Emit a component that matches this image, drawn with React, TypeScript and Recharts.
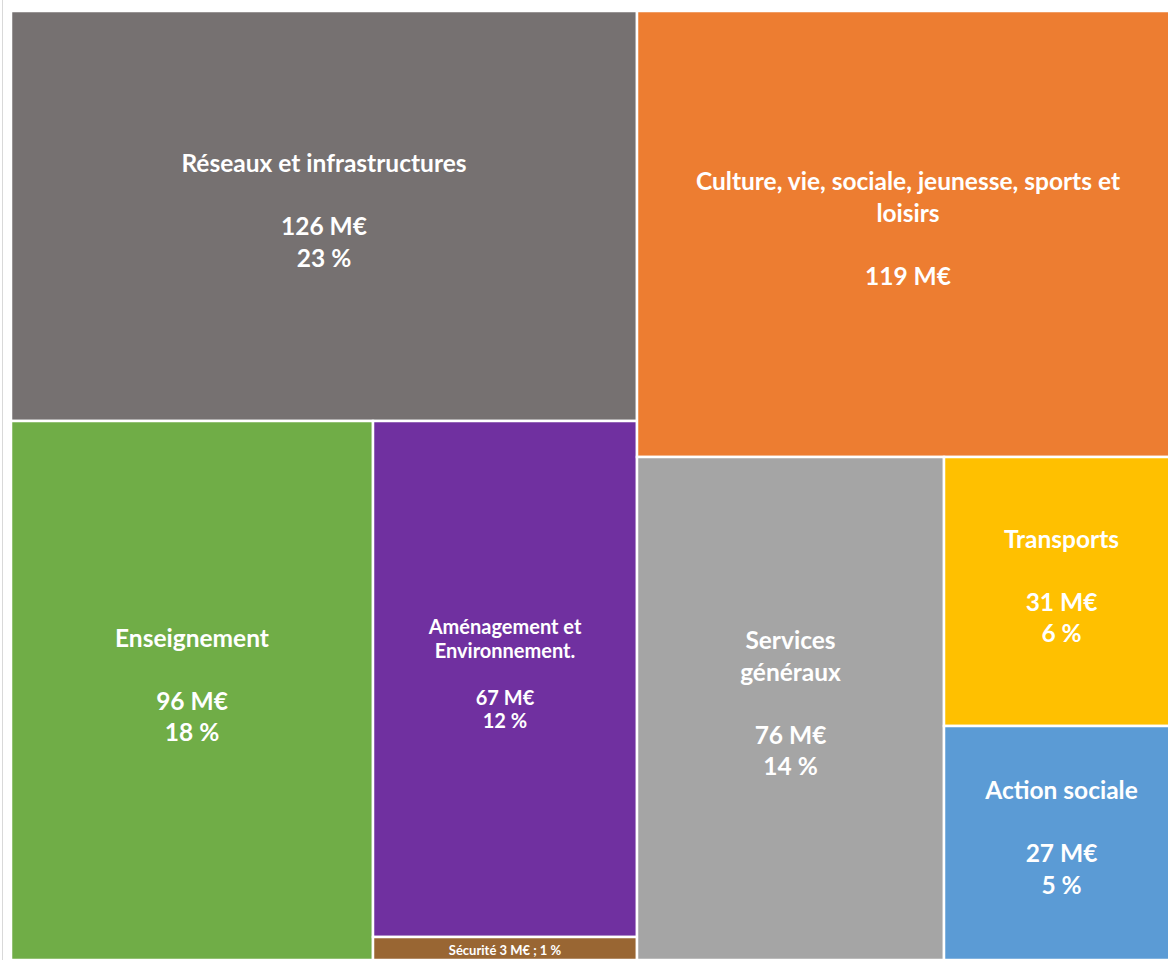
import { Treemap } from "recharts";

const CATEGORIES = [
  "Réseaux et infrastructures",
  "Culture, vie, sociale, jeunesse, sports et loisirs",
  "Enseignement",
  "Aménagement et Environnement.",
  "Sécurité",
  "Services généraux",
  "Transports",
  "Action sociale",
];
const AMOUNTS = [126, 119, 96, 67, 3, 76, 31, 27];
const PERCENTS: (number | null)[] = [23, null, 18, 12, 1, 14, 6, 5];
const TITLE_LINES = [
  ["Réseaux et infrastructures"],
  ["Culture, vie, sociale, jeunesse, sports et", "loisirs"],
  ["Enseignement"],
  ["Aménagement et", "Environnement."],
  ["Sécurité"],
  ["Services", "généraux"],
  ["Transports"],
  ["Action sociale"],
];

const COLORS: Record<string, string> = {
  "Réseaux et infrastructures": "#767171",
  "Culture, vie, sociale, jeunesse, sports et loisirs": "#ED7D31",
  Enseignement: "#70AD47",
  "Aménagement et Environnement.": "#7030A0",
  "Sécurité": "#996633",
  "Services généraux": "#A5A5A5",
  Transports: "#FFC000",
  "Action sociale": "#5B9BD5",
};
const FONT_SIZE: Record<string, number> = {
  "Aménagement et Environnement.": 20,
  "Sécurité": 13,
};
const LINE_H: Record<string, number> = {
  "Aménagement et Environnement.": 23.5,
};

const leaf = (i: number) => ({ name: CATEGORIES[i], size: AMOUNTS[i], idx: i });

// grouping mirrors the block layout of the original
const TREE = [
  {
    name: "left",
    children: [leaf(0), { name: "left-bottom", children: [leaf(2), { name: "am-sec", children: [leaf(3), leaf(4)] }] }],
  },
  {
    name: "right",
    children: [leaf(1), { name: "right-bottom", children: [leaf(5), { name: "tr-as", children: [leaf(6), leaf(7)] }] }],
  },
];

const FONT = "Lato, 'Open Sans', sans-serif";

function Tile(props: any) {
  const { x, y, width, height, children, idx } = props;
  if ((children && children.length) || idx === undefined) return <g />;
  const name = CATEGORIES[idx];
  const fs = FONT_SIZE[name] ?? 24.5;
  const cx = x + width / 2;
  const rect = <rect x={x} y={y} width={width} height={height} fill={COLORS[name]} stroke="#fff" strokeWidth={2.5} />;

  if (name === "Sécurité") {
    return (
      <g>
        {rect}
        <text x={cx} y={y + height / 2 + 1} textAnchor="middle" dominantBaseline="central" fill="#fff" fontFamily={FONT} fontWeight={700} fontSize={fs}>
          {`Sécurité ${AMOUNTS[idx]} M€ ; ${PERCENTS[idx]} %`}
        </text>
      </g>
    );
  }

  const lines = [...TITLE_LINES[idx], "", `${AMOUNTS[idx]} M€`];
  if (PERCENTS[idx] !== null) lines.push(`${PERCENTS[idx]} %`);
  const lh = LINE_H[name] ?? 31.5;
  const top = y + height / 2 - ((lines.length - 1) * lh) / 2 - 6;

  return (
    <g>
      {rect}
      {lines.map((l, i) =>
        l ? (
          <text key={i} x={cx} y={top + i * lh} textAnchor="middle" dominantBaseline="central" fill="#fff" fontFamily={FONT} fontWeight={700} fontSize={fs}>
            {l}
          </text>
        ) : null
      )}
    </g>
  );
}

export default function App() {
  return (
    <div style={{ position: "fixed", left: 0, top: 0, width: 1168, height: 960, overflow: "hidden", background: "#fff" }}>
      <div style={{ position: "absolute", left: 2, top: 0, width: 1, height: 960, background: "#d9d9d9" }} />
      <div style={{ position: "absolute", left: 11, top: 11 }}>
        <Treemap
          width={1168}
          height={949}
          data={TREE}
          dataKey="size"
          aspectRatio={1}
          isAnimationActive={false}
          content={(p: any) => <Tile {...p} />}
        />
      </div>
    </div>
  );
}
